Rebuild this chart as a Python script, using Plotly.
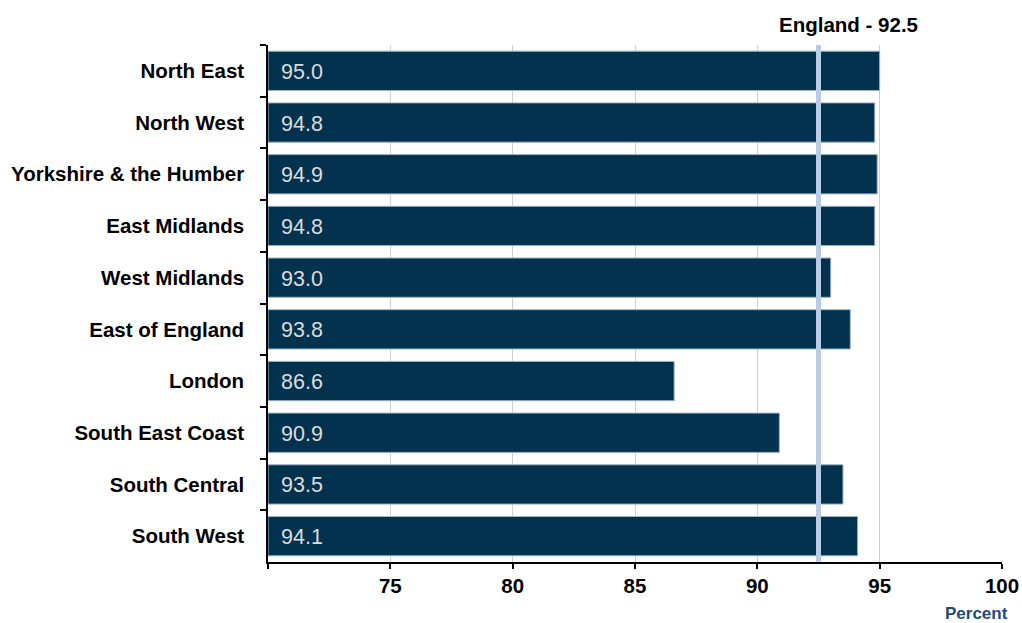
import plotly.graph_objects as go

regions = ["North East", "North West", "Yorkshire & the Humber", "East Midlands",
           "West Midlands", "East of England", "London", "South East Coast",
           "South Central", "South West"]
values = [95.0, 94.8, 94.9, 94.8, 93.0, 93.8, 86.6, 90.9, 93.5, 94.1]
england = 92.5
x_ticks = [70, 75, 80, 85, 90, 95, 100]
x_tick_labels = ["", "75", "80", "85", "90", "95", "100"]

FONT = "Arial, Liberation Sans, sans-serif"
BAR = "#03324f"

fig = go.Figure()
fig.add_trace(go.Bar(
    y=regions, x=[v - 70 for v in values], base=70, orientation="h",
    marker=dict(color=BAR, line=dict(color="#9fb3c6", width=1)),
    width=0.76, hoverinfo="skip",
))

annotations = []
for r, v in zip(regions, values):
    annotations.append(dict(x=70, y=r, xref="x", yref="y", text=f"{v:.1f}",
                            showarrow=False, xanchor="left", xshift=11, yshift=-1,
                            font=dict(family=FONT, size=21.5, color="#dcdcdc")))
annotations.append(dict(x=england, y=1, xref="x", yref="paper",
                        text=f"<b>England - {england}</b>", showarrow=False,
                        xanchor="center", yanchor="bottom", xshift=30, yshift=7,
                        font=dict(family=FONT, size=20.5, color="black")))
annotations.append(dict(x=1, y=0, xref="paper", yref="paper", text="<b>Percent</b>",
                        showarrow=False, xanchor="right", yanchor="top",
                        xshift=8, yshift=-40,
                        font=dict(family=FONT, size=17, color="#1f497d")))

fig.update_layout(
    width=1022, height=623,
    margin=dict(l=268, r=20, t=45, b=61),
    paper_bgcolor="white", plot_bgcolor="white",
    showlegend=False, bargap=0.24,
    annotations=annotations,
    shapes=[dict(type="line", xref="x", yref="paper", x0=england, x1=england,
                 y0=0, y1=1, line=dict(color="#b8cde4", width=5), layer="above")],
    xaxis=dict(range=[70, 100], tickvals=x_ticks, ticktext=x_tick_labels,
               showgrid=True, gridcolor="#cfcfcf", gridwidth=1,
               showline=True, linecolor="black", linewidth=1.5,
               ticks="outside", ticklen=5, tickcolor="black", tickwidth=1.5,
               ticklabelstandoff=0, automargin=False,
               tickfont=dict(family=FONT, size=20.5, color="black", weight="bold"),
               zeroline=False, fixedrange=True),
    yaxis=dict(autorange="reversed", type="category",
               showline=True, linecolor="black", linewidth=1.5,
               ticks="outside", ticklen=6, tickcolor="black", tickwidth=1.5,
               tickson="boundaries", ticklabelstandoff=18, automargin=False,
               tickfont=dict(family=FONT, size=20.5, color="black", weight="bold"),
               showgrid=False, fixedrange=True),
)

fig.write_html("out.html", config={"displayModeBar": False},
               post_script="document.body.style.margin='0';")
